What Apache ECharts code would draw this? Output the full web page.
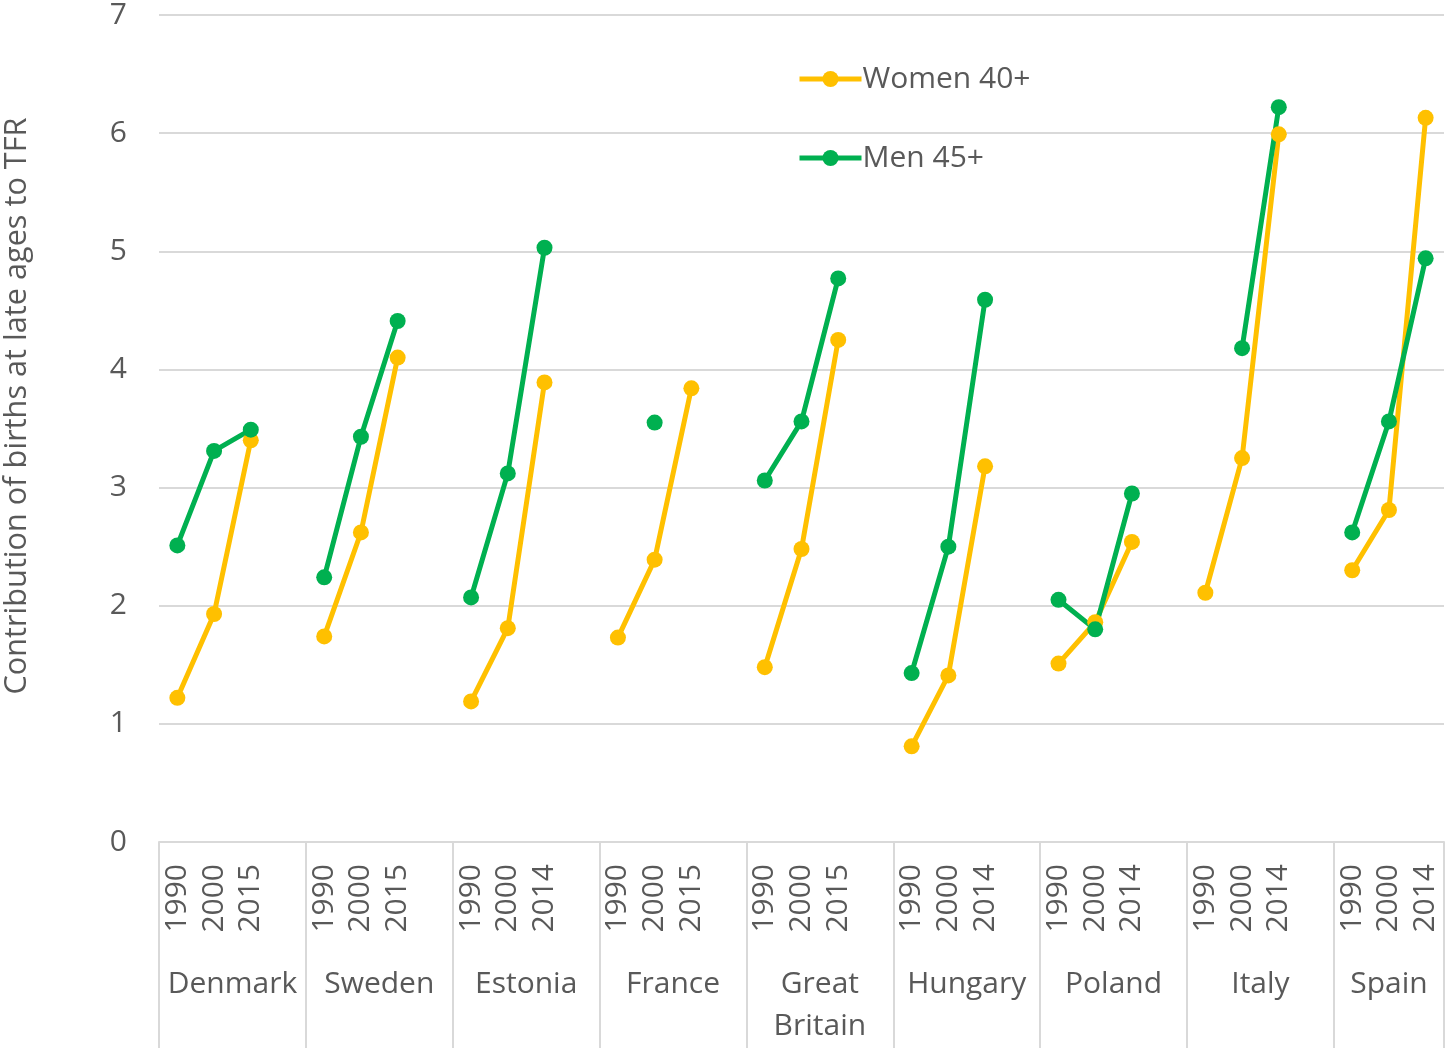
<!DOCTYPE html>
<html>
<head>
<meta charset="utf-8">
<script src="https://cdn.jsdelivr.net/npm/echarts@6/dist/echarts.min.js"></script>
<style>
  html, body { margin: 0; padding: 0; background: #fff; }
  #chart { width: 1445px; height: 1048px; }
</style>
</head>
<body>
<div id="chart"></div>
<script>
// countries and the years shown for each
const countries = ['Denmark', 'Sweden', 'Estonia', 'France', 'Great\nBritain', 'Hungary', 'Poland', 'Italy', 'Spain'];
const years = [
    ['1990', '2000', '2015'],
    ['1990', '2000', '2015'],
    ['1990', '2000', '2014'],
    ['1990', '2000', '2015'],
    ['1990', '2000', '2015'],
    ['1990', '2000', '2014'],
    ['1990', '2000', '2014'],
    ['1990', '2000', '2014'],
    ['1990', '2000', '2014'],
];

// contribution of births at late ages to TFR
const women40 = [
    [1.22, 1.93, 3.40],
    [1.74, 2.62, 4.10],
    [1.19, 1.81, 3.89],
    [1.73, 2.39, 3.84],
    [1.48, 2.48, 4.25],
    [0.81, 1.41, 3.18],
    [1.51, 1.86, 2.54],
    [2.11, 3.25, 5.99],
    [2.30, 2.81, 6.13],
];
const men45 = [
    [2.51, 3.31, 3.49],
    [2.24, 3.43, 4.41],
    [2.07, 3.12, 5.03],
    [null, 3.55, null],
    [3.06, 3.56, 4.77],
    [1.43, 2.50, 4.59],
    [2.05, 1.80, 2.95],
    [null, 4.18, 6.22],
    [2.62, 3.56, 4.94],
];

const yTicks = [0, 1, 2, 3, 4, 5, 6, 7];

const gray = '#595959';
const lineGray = '#d9d9d9';
const font = '"Open Sans", sans-serif';

// flatten into slots: 3 years per country, one empty slot between countries
const categories = [];
const womenData = [];
const menData = [];
const groupEdges = [0];
const groupCenters = [];
countries.forEach((c, ci) => {
    const start = categories.length;
    years[ci].forEach((y, yi) => {
        categories.push(`${ci}|${y}`);
        womenData.push(women40[ci][yi]);
        menData.push(men45[ci][yi]);
    });
    if (ci < countries.length - 1) {
        categories.push(`${ci}|gap`);
        womenData.push(null);
        menData.push(null);
    }
    groupEdges.push(categories.length);
    groupCenters.push((start + categories.length) / 2);
});

const chart = echarts.init(document.getElementById('chart'));

chart.setOption({
    animation: false,
    textStyle: { fontFamily: font },
    grid: {
        left: 159, right: 1, top: 15, bottom: 206,
        outerBoundsMode: 'none',
        containLabel: false,
    },
    legend: {
        orient: 'vertical',
        left: 797,
        top: 62,
        padding: 0,
        itemWidth: 62,
        itemHeight: 20,
        itemGap: 45,
        lineStyle: { width: 5 },
        textStyle: {
            color: gray, fontSize: 30, lineHeight: 34, padding: [0, 0, 0, -4],
        },
        data: ['Women 40+', 'Men 45+'],
    },
    xAxis: [
        {
            type: 'category',
            data: categories,
            boundaryGap: true,
            axisLine: { lineStyle: { color: lineGray, width: 2 } },
            axisTick: { show: false },
            axisLabel: {
                interval: 0,
                rotate: 90,
                margin: 22,
                color: gray,
                fontSize: 30,
                fontFamily: font,
                formatter: (v) => {
                    const y = v.split('|')[1];
                    return y === 'gap' ? '' : y;
                },
            },
        },
        {
            type: 'value',
            position: 'bottom',
            min: 0,
            max: categories.length,
            splitLine: { show: false },
            axisLine: { show: false },
            axisTick: {
                show: true,
                length: 206,
                customValues: groupEdges,
                lineStyle: { color: lineGray, width: 2 },
            },
            axisLabel: {
                margin: 121,
                color: gray,
                fontSize: 30,
                lineHeight: 42,
                verticalAlign: 'top',
                fontFamily: font,
                customValues: groupCenters,
                formatter: (v) => {
                    const i = groupCenters.indexOf(v);
                    return i >= 0 ? countries[i] : '';
                },
            },
        },
    ],
    yAxis: {
        type: 'value',
        min: yTicks[0],
        max: yTicks[yTicks.length - 1],
        interval: 1,
        name: 'Contribution of births at late ages to TFR',
        nameLocation: 'middle',
        nameGap: 126,
        nameTextStyle: {
            color: gray, fontSize: 30.7, fontFamily: font, padding: [0, 0, 0, 45],
        },
        axisLine: { show: false },
        axisTick: { show: false },
        axisLabel: {
            color: gray, fontSize: 30, margin: 32, fontFamily: font,
        },
        splitLine: { lineStyle: { color: lineGray, width: 2 } },
    },
    series: [
        {
            name: 'Women 40+',
            type: 'line',
            data: womenData,
            color: '#FFC000',
            symbol: 'circle',
            symbolSize: 16,
            showAllSymbol: true,
            lineStyle: { width: 5 },
            connectNulls: false,
        },
        {
            name: 'Men 45+',
            type: 'line',
            data: menData,
            color: '#00B050',
            symbol: 'circle',
            symbolSize: 16,
            showAllSymbol: true,
            lineStyle: { width: 5 },
            connectNulls: false,
        },
    ],
});
</script>
</body>
</html>
